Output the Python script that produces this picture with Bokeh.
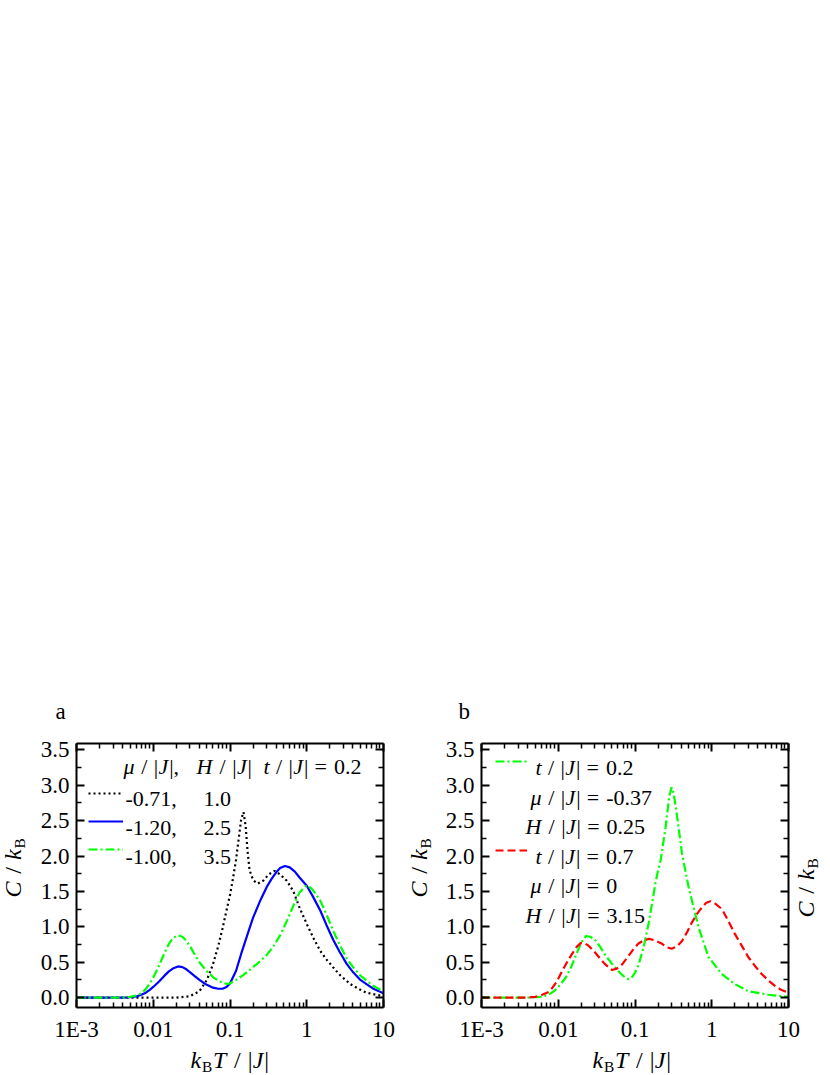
import math
from bokeh.plotting import figure
from bokeh.models import (LogAxis, LinearAxis, FixedTicker, Label, Range1d,
                          Legend, LegendItem, NumeralTickFormatter, CustomJSTickFormatter)
from bokeh.layouts import row
from bokeh.embed import file_html
from bokeh.resources import INLINE

FONT = "Liberation Serif"

# ---------------- data ----------------
x_ticks = [0.001, 0.01, 0.1, 1, 10]
x_tick_labels = ["1E-3", "0.01", "0.1", "1", "10"]
y_ticks = [0, 0.5, 1, 1.5, 2, 2.5, 3, 3.5]
y_minor = [0.25, 0.75, 1.25, 1.75, 2.25, 2.75, 3.25]
x_minor = [m * 10.0 ** e for e in (-3, -2, -1, 0) for m in range(2, 10)]

# panel a : mu/|J| = -0.71, H/|J| = 1.0 (black dotted)
a1_T = [0.001, 0.01, 0.02, 0.03, 0.04, 0.05, 0.06, 0.07, 0.08, 0.09, 0.1, 0.11, 0.12,
        0.13, 0.14, 0.15, 0.16, 0.17, 0.18, 0.2, 0.23, 0.27, 0.32, 0.38, 0.45, 0.55,
        0.67, 0.8, 1.0, 1.25, 1.5, 1.8, 2.2, 2.7, 3.7, 5.0, 6.0, 8.0, 10.0]
a1_C = [0.0, 0.0, 0.0, 0.02, 0.09, 0.25, 0.47, 0.72, 0.98, 1.23, 1.45, 1.70, 1.95,
        2.25, 2.52, 2.62, 2.42, 2.05, 1.80, 1.66, 1.61, 1.65, 1.74, 1.79, 1.74, 1.65,
        1.50, 1.28, 1.04, 0.82, 0.66, 0.54, 0.43, 0.32, 0.19, 0.11, 0.07, 0.04, 0.02]
# panel a : mu/|J| = -1.20, H/|J| = 2.5 (blue solid)
a2_T = [0.001, 0.004, 0.005, 0.006, 0.007, 0.008, 0.009, 0.01, 0.012, 0.014, 0.016,
        0.018, 0.021, 0.024, 0.027, 0.03, 0.035, 0.04, 0.045, 0.05, 0.06, 0.07, 0.08,
        0.09, 0.1, 0.12, 0.14, 0.17, 0.2, 0.25, 0.3, 0.35, 0.4, 0.45, 0.52, 0.6, 0.7,
        0.8, 1.0, 1.2, 1.5, 1.8, 2.2, 2.7, 3.3, 4.0, 5.0, 6.0, 7.5, 10.0]
a2_C = [0.0, 0.0, 0.005, 0.015, 0.04, 0.07, 0.11, 0.15, 0.23, 0.31, 0.37,
        0.41, 0.44, 0.43, 0.40, 0.36, 0.30, 0.25, 0.21, 0.18, 0.14, 0.125, 0.125,
        0.15, 0.20, 0.38, 0.62, 0.90, 1.13, 1.38, 1.56, 1.68, 1.77, 1.83, 1.86, 1.84, 1.78,
        1.70, 1.58, 1.43, 1.23, 1.03, 0.82, 0.64, 0.48, 0.36, 0.25, 0.19, 0.12, 0.06]
# panel a : mu/|J| = -1.00, H/|J| = 3.5 (green dash-dot)
a3_T = [0.001, 0.004, 0.005, 0.006, 0.007, 0.008, 0.009, 0.01, 0.012, 0.014, 0.016,
        0.018, 0.021, 0.024, 0.027, 0.03, 0.035, 0.04, 0.05, 0.06, 0.07, 0.08, 0.09,
        0.1, 0.12, 0.15, 0.2, 0.25, 0.3, 0.37, 0.45, 0.55, 0.67, 0.8, 0.95, 1.05, 1.2,
        1.5, 1.8, 2.2, 2.7, 3.3, 4.0, 5.0, 6.0, 7.5, 10.0]
a3_C = [0.0, 0.0, 0.01, 0.03, 0.06, 0.12, 0.20, 0.28, 0.46, 0.63, 0.76,
        0.84, 0.88, 0.86, 0.80, 0.73, 0.60, 0.50, 0.37, 0.29, 0.24, 0.21, 0.195,
        0.20, 0.25, 0.32, 0.43, 0.52, 0.60, 0.73, 0.88, 1.08, 1.30, 1.48, 1.57, 1.58, 1.52,
        1.37, 1.18, 0.95, 0.74, 0.56, 0.43, 0.31, 0.24, 0.16, 0.09]
# panel b : t/|J| = 0.2 (green dash-dot)
b1_T = [0.001, 0.004, 0.005, 0.006, 0.007, 0.008, 0.009, 0.01, 0.0125, 0.015, 0.017,
        0.02, 0.023, 0.026, 0.03, 0.035, 0.041, 0.05, 0.056, 0.065, 0.075, 0.082, 0.09,
        0.1, 0.112, 0.13, 0.15, 0.17, 0.184, 0.2, 0.215, 0.25, 0.28, 0.3, 0.32, 0.36,
        0.41, 0.5, 0.675, 0.91, 1.36, 2.0, 3.0, 5.5, 10.0]
b1_C = [0.0, 0.0, 0.005, 0.01, 0.03, 0.06, 0.10, 0.15, 0.28, 0.45, 0.60,
        0.78, 0.87, 0.86, 0.82, 0.72, 0.60, 0.48, 0.42, 0.34, 0.28, 0.26, 0.28,
        0.35, 0.47, 0.72, 1.04, 1.38, 1.61, 1.80, 1.93, 2.40, 2.85, 2.97, 2.88, 2.50,
        2.03, 1.56, 0.99, 0.57, 0.33, 0.19, 0.09, 0.04, 0.01]
# panel b : t/|J| = 0.7 (red dashed)
b2_T = [0.001, 0.004, 0.005, 0.0062, 0.0075, 0.0084, 0.0095, 0.0113, 0.013, 0.015,
        0.0175, 0.0196, 0.022, 0.025, 0.03, 0.034, 0.04, 0.05, 0.058, 0.068, 0.08,
        0.092, 0.11, 0.13, 0.152, 0.18, 0.225, 0.26, 0.3, 0.35, 0.41, 0.48, 0.55, 0.65,
        0.75, 0.85, 0.96, 1.1, 1.36, 1.65, 2.0, 2.5, 3.0, 3.7, 4.5, 5.5, 6.6, 8.0, 10.0]
b2_C = [0.0, 0.0, 0.01, 0.04, 0.08, 0.14, 0.22, 0.38, 0.50, 0.61,
        0.72, 0.77, 0.77, 0.73, 0.64, 0.57, 0.48, 0.39, 0.41, 0.47, 0.57,
        0.66, 0.76, 0.81, 0.83, 0.81, 0.76, 0.71, 0.69, 0.72, 0.80, 0.93, 1.06, 1.19,
        1.28, 1.34, 1.36, 1.33, 1.25, 1.08, 0.90, 0.72, 0.57, 0.44, 0.33, 0.24, 0.17, 0.11, 0.07]

# ---------------- layout constants ----------------
FIG_H = 1075
PLOT_TOP, PLOT_BOTTOM = 743, 1007     # page y of the drawn box
PLOT_W = 307                          # width of the drawn box
X_LO, X_HI = 1e-3, 10
Y_LO, Y_HI = -0.14, 3.59
PX_DEC = PLOT_W / (math.log10(X_HI) - math.log10(X_LO))
PX_UNIT = (PLOT_BOTTOM - PLOT_TOP) / (Y_HI - Y_LO)

EM_N = {' ': 0.25, ',': 0.25, '.': 0.25, '-': 0.333, '=': 0.564, '/': 0.278,
        '|': 0.2, 'E': 0.611, 'B': 0.667, 'a': 0.444, 'b': 0.5}
EM_I = {'J': 0.444, 't': 0.278, 'H': 0.722, 'C': 0.667, 'k': 0.444, 'T': 0.556,
        'μ': 0.5}


def em(ch, italic):
    if ch.isdigit():
        return 0.5
    return (EM_I if italic else EM_N).get(ch, 0.5)


def add_runs(panel, xp, yp, parts, size, vertical=False, stretch=1.08):
    """Rich text as a chain of Labels; (xp, yp) page coords of baseline start."""
    p, left = panel
    cur = 0.0
    for text, st in parts:
        italic = st == "i"
        fs = size * 0.64 if st == "sub" else size
        shift = size * 0.3 if st == "sub" else 0.0
        for k, seg in enumerate(text.split(" ")):
            if k > 0:
                cur += em(" ", False) * fs * stretch
            if seg == "":
                continue
            if vertical:
                sx, sy = xp + shift - left, FIG_H - (yp - cur)
            else:
                sx, sy = xp + cur - left, FIG_H - (yp + shift)
            p.add_layout(Label(x=sx, y=sy, x_units="screen", y_units="screen",
                               text=seg, text_font=FONT, text_font_size=f"{fs:.1f}px",
                               text_font_style="italic" if italic else "normal",
                               text_color="black", text_baseline="alphabetic",
                               text_align="left",
                               angle=math.pi / 2 if vertical else 0))
            cur += sum(em(c, italic) for c in seg) * fs * stretch


def style_axis(ax):
    ax.axis_line_width = 2
    ax.axis_line_color = "black"
    ax.major_tick_in = 8
    ax.major_tick_out = 0
    ax.minor_tick_in = 5
    ax.minor_tick_out = 0
    ax.major_tick_line_width = 2
    ax.minor_tick_line_width = 1.5
    ax.major_tick_line_color = "black"
    ax.minor_tick_line_color = "black"
    ax.major_label_text_font = FONT
    ax.major_label_text_color = "black"
    ax.major_label_text_font_size = "23px"


def make_panel(page_left, width, box_left):
    # the frame fills the whole figure; the axes are pinned to the box edges
    lx0 = math.log10(X_LO) - (box_left - page_left) / PX_DEC
    lx1 = math.log10(X_LO) + (page_left + width - box_left) / PX_DEC
    y0 = Y_LO - (FIG_H - PLOT_BOTTOM) / PX_UNIT
    y1 = Y_HI + PLOT_TOP / PX_UNIT
    p = figure(width=width, height=FIG_H, x_axis_type="log",
               x_range=Range1d(10 ** lx0, 10 ** lx1), y_range=Range1d(y0, y1),
               output_backend="svg", toolbar_location=None,
               x_axis_location=None, y_axis_location=None,
               min_border=0)
    p.outline_line_color = None
    p.grid.visible = False
    p.background_fill_color = "white"
    p.border_fill_color = "white"

    blank = CustomJSTickFormatter(code="return ''")
    bottom = LogAxis(ticker=FixedTicker(ticks=x_ticks, minor_ticks=x_minor),
                     major_label_overrides=dict(zip(x_ticks, x_tick_labels)),
                     fixed_location=Y_LO, bounds=(X_LO, X_HI), major_label_standoff=9)
    top = LogAxis(ticker=FixedTicker(ticks=x_ticks, minor_ticks=x_minor), formatter=blank,
                  fixed_location=Y_HI, bounds=(X_LO, X_HI))
    left = LinearAxis(ticker=FixedTicker(ticks=y_ticks, minor_ticks=y_minor),
                      formatter=NumeralTickFormatter(format="0.0"),
                      fixed_location=X_LO, bounds=(Y_LO, Y_HI), major_label_standoff=7)
    right = LinearAxis(ticker=FixedTicker(ticks=y_ticks, minor_ticks=y_minor), formatter=blank,
                       fixed_location=X_HI, bounds=(Y_LO, Y_HI))
    for ax in (bottom, top, left, right):
        style_axis(ax)
    p.add_layout(bottom, "below")
    p.add_layout(top, "above")
    p.add_layout(left, "left")
    p.add_layout(right, "right")
    return (p, page_left)


def add_xlabel(panel, x0):
    add_runs(panel, x0, 1059,
             [("k", "i"), ("B", "sub"), ("T", "i"), (" / |", "n"), ("J", "i"), ("|", "n")], 24)


def add_ylabel(panel, xbase, ystart):
    add_runs(panel, xbase, ystart,
             [("C", "i"), (" / ", "n"), ("k", "i"), ("B", "sub")], 24, vertical=True)


def make_legend(panel, renderers, x_page, y_top_page, gw):
    p, left = panel
    n = len(renderers)
    return Legend(items=[LegendItem(label=" ", renderers=[r]) for r in renderers],
                  location=(x_page - left, FIG_H - y_top_page - 28 * n),
                  glyph_width=gw, glyph_height=28, label_height=28,
                  label_width=1, label_standoff=0, padding=0, margin=0, spacing=0,
                  label_text_font_size="6px", border_line_color=None,
                  background_fill_alpha=0)


# ---------------- panel a ----------------
PA = make_panel(0, 405, 76)
pa = PA[0]
ra1 = pa.line(a1_T, a1_C, line_color="black", line_width=2.2, line_dash="2 3")
ra2 = pa.line(a2_T, a2_C, line_color="#0000ff", line_width=2.2)
ra3 = pa.line(a3_T, a3_C, line_color="#00ff00", line_width=2.2, line_dash="9 3 2 3")
pa.add_layout(make_legend(PA, [ra1, ra2, ra3], 88, 779, 35))

add_runs(PA, 123, 766, [("μ", "i"), (" / |", "n"), ("J", "i"), ("|,", "n")], 22)
add_runs(PA, 196, 766, [("H", "i"), (" / |", "n"), ("J", "i"), ("|", "n")], 22)
add_runs(PA, 263, 766, [("t", "i"), (" / |", "n"), ("J", "i"), ("| = 0.2", "n")], 22)
for lab_mu, lab_h, yb in (("-0.71,", "1.0", 798), ("-1.20,", "2.5", 827), ("-1.00,", "3.5", 856)):
    add_runs(PA, 125, yb, [(lab_mu, "n")], 22)
    add_runs(PA, 203, yb, [(lab_h, "n")], 22)

add_runs(PA, 55, 711, [("a", "n")], 23)
add_xlabel(PA, 190)
add_ylabel(PA, 12, 897)

# ---------------- panel b ----------------
PB = make_panel(405, 425, 481)
pb = PB[0]
rb1 = pb.line(b1_T, b1_C, line_color="#00ff00", line_width=2.2, line_dash="9 3 2 3")
rb2 = pb.line(b2_T, b2_C, line_color="#ff0000", line_width=2.2, line_dash="8 4")
pb.add_layout(make_legend(PB, [rb1], 495, 747, 32))
pb.add_layout(make_legend(PB, [rb2], 495, 836, 32))

add_runs(PB, 535, 767, [("t", "i"), (" / |", "n"), ("J", "i"), ("| = 0.2", "n")], 22)
add_runs(PB, 530, 797, [("μ", "i"), (" / |", "n"), ("J", "i"), ("| = -0.37", "n")], 22)
add_runs(PB, 525, 826, [("H", "i"), (" / |", "n"), ("J", "i"), ("| = 0.25", "n")], 22)
add_runs(PB, 535, 856, [("t", "i"), (" / |", "n"), ("J", "i"), ("| = 0.7", "n")], 22)
add_runs(PB, 530, 885, [("μ", "i"), (" / |", "n"), ("J", "i"), ("| = 0", "n")], 22)
add_runs(PB, 525, 915, [("H", "i"), (" / |", "n"), ("J", "i"), ("| = 3.15", "n")], 22)

add_runs(PB, 458, 711, [("b", "n")], 23)
add_xlabel(PB, 592)
add_ylabel(PB, 418, 897)
# label of the next (cut-off) panel, kept inside the page
add_ylabel(PB, 805, 917)

layout = row(pa, pb)
open("out.html", "w").write(file_html(layout, INLINE))
